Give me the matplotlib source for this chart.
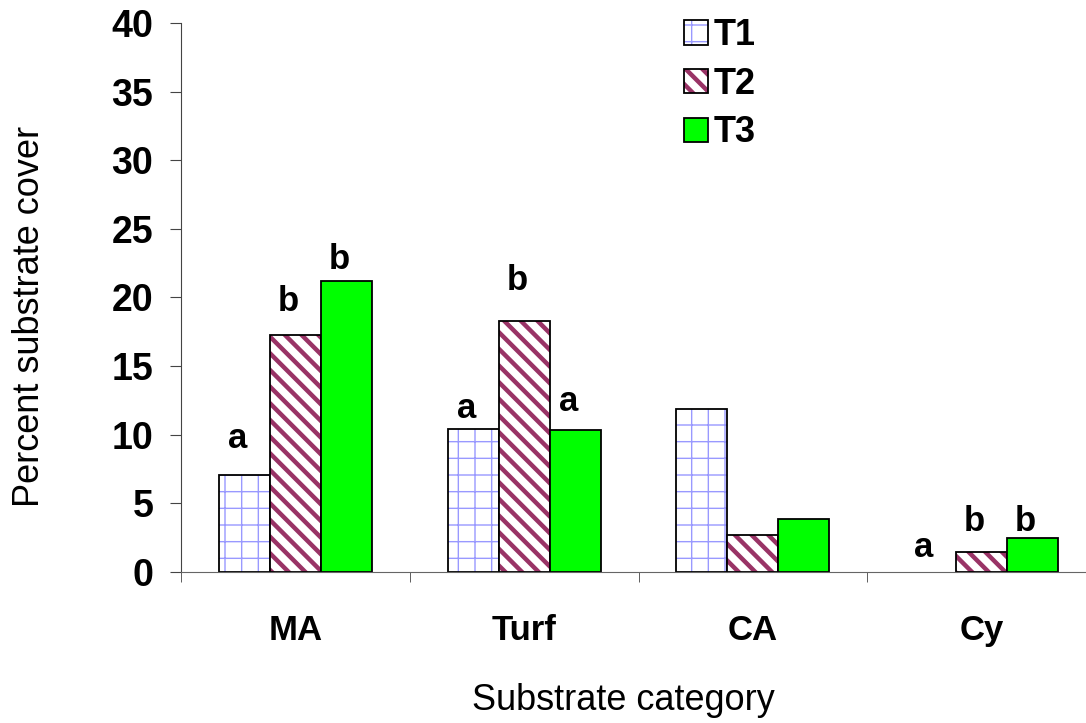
import matplotlib.pyplot as plt
import numpy as np
from matplotlib.patches import Patch
from matplotlib.legend_handler import HandlerTuple

plt.rcParams['font.family'] = ['Liberation Sans', 'DejaVu Sans']

categories = ['MA', 'Turf', 'CA', 'Cy']
t1 = [7.1, 10.4, 11.9, 0.0]
t2 = [17.3, 18.3, 2.7, 1.45]
t3 = [21.2, 10.35, 3.85, 2.45]
series_names = ['T1', 'T2', 'T3']

# significance letters and their heights
letters = [['a', 'b', 'b'], ['a', 'b', 'a'], ['', '', ''], ['a', 'b', 'b']]
letter_y = [[8.5, 18.5, 21.6], [10.7, 20.0, 11.2], [0, 0, 0], [0.6, 2.5, 2.5]]

hatch_colors = ['#9999ff', '#993366', None]
hatches = ['+', '\\\\', None]
fills = ['white', 'white', '#00ff00']
hatch_lw = [1.0, 3.2, 1.0]

fig = plt.figure(figsize=(10.86, 7.23), dpi=100)
ax = fig.add_axes([0.1667, 0.2089, 0.8425, 0.7593])

x = np.arange(len(categories))
w = 0.223
handles = []
for i, vals in enumerate([t1, t2, t3]):
    pos = x + (i - 1) * w
    if hatches[i]:
        with plt.rc_context({'hatch.linewidth': hatch_lw[i]}):
            ax.bar(pos, vals, w, color=fills[i], edgecolor=hatch_colors[i],
                   hatch=hatches[i], linewidth=0)
            h1 = Patch(facecolor=fills[i], edgecolor=hatch_colors[i], hatch=hatches[i], linewidth=0)
    # outline only where there is a bar
    edge_w = [1.3 if v > 0 else 0 for v in vals]
    ax.bar(pos, vals, w, color='none' if hatches[i] else fills[i],
           edgecolor='black', linewidth=edge_w)
    if hatches[i]:
        h2 = Patch(facecolor='none', edgecolor='black', linewidth=1.3)
        handles.append((h1, h2))
    else:
        handles.append(Patch(facecolor=fills[i], edgecolor='black', linewidth=1.3))
    for j in range(len(categories)):
        if letters[j][i]:
            ax.text(pos[j] - 0.03, letter_y[j][i], letters[j][i], ha='center', va='bottom',
                    fontsize=25, fontweight='bold')

ax.set_xlim(-0.5, 3.5)
ax.set_ylim(0, 40)
ax.set_yticks(range(0, 41, 5))
ax.set_xticks(x)
ax.set_xticklabels(categories, fontsize=25, fontweight='bold')
ax.set_xticks([-0.5, 0.5, 1.5, 2.5], minor=True)
ax.tick_params(axis='x', which='major', length=0, pad=30)
ax.tick_params(axis='x', which='minor', length=7, direction='out', color='#444444')
ax.tick_params(axis='y', length=8, direction='out', pad=12, labelsize=27, color='#444444')
for lab in ax.get_yticklabels():
    lab.set_fontweight('bold')

ax.spines['top'].set_visible(False)
ax.spines['right'].set_visible(False)
ax.spines['left'].set_color('#444444')
ax.spines['bottom'].set_color('#666666')

ax.set_ylabel('Percent substrate cover', fontsize=26)
ax.yaxis.set_label_coords(-0.147, 0.466)
ax.set_xlabel('Substrate category', fontsize=26)
ax.xaxis.set_label_coords(0.483, -0.203)

leg = ax.legend(handles, series_names, loc='upper left',
                bbox_to_anchor=(666 / 1086, 1 - 0 / 723), bbox_transform=fig.transFigure,
                borderpad=0, frameon=False, prop={'size': 26, 'weight': 'bold'},
                handler_map={tuple: HandlerTuple(ndivide=1, pad=0)},
                handlelength=0.67, handleheight=0.67, handletextpad=0.15, labelspacing=0.38)

# thicker stripes for the T2 legend key
for p in leg.findobj(Patch):
    if p.get_hatch() == '\\\\':
        if hasattr(p, 'set_hatch_linewidth'):
            p.set_hatch_linewidth(3.2)
        else:
            p._hatch_linewidth = 3.2

fig.savefig('out.png', dpi=100)
